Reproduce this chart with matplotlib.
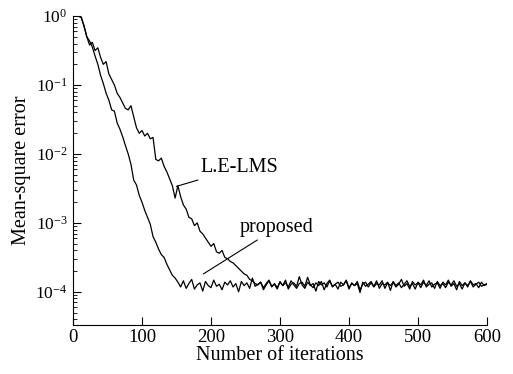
import numpy as np
import matplotlib.pyplot as plt
from matplotlib.ticker import LogLocator, NullFormatter

plt.rcParams['font.family'] = 'Liberation Serif'
plt.rcParams['mathtext.fontset'] = 'custom'
plt.rcParams['mathtext.rm'] = 'Liberation Serif'
plt.rcParams['mathtext.it'] = 'Liberation Serif:italic'

# Iterations sampled every 4 steps
iterations = np.arange(0, 601, 4)

# log10 of mean-square error, proposed algorithm
proposed_decay = [0, 0, 0, -0.02, -0.14, -0.30, -0.36, -0.45, -0.58, -0.70,
                  -0.86, -0.98, -1.12, -1.22, -1.36, -1.38, -1.55, -1.64, -1.75, -1.88,
                  -2.00, -2.15, -2.38, -2.45, -2.60, -2.70, -2.82, -2.92, -3.02, -3.20,
                  -3.28, -3.38, -3.46, -3.50, -3.60, -3.68, -3.76, -3.80]
proposed_floor = [
    -3.86, -3.93, -3.84, -3.95, -3.88, -3.82, -3.96, -3.90, -3.87, -3.99, -3.85, -3.91, -3.94, -3.83, -3.92, -3.89, -3.97, -3.86, -3.90, -3.84,
    -3.93, -3.88, -4.00, -3.85, -3.91, -3.87, -3.95, -3.80, -3.92, -3.89, -3.86, -3.97, -3.90, -3.84, -3.93, -3.88, -3.94, -3.86, -3.91, -3.83,
    -3.96, -3.89, -3.87, -3.92, -3.78, -3.90, -3.95, -3.86, -3.91, -3.88, -3.99, -3.85, -3.90, -3.87, -3.93, -3.84, -3.92, -3.89, -3.96, -3.86,
    -3.90, -3.83, -3.94, -3.88, -3.91, -3.85, -3.97, -3.89, -3.86, -3.93, -3.87, -3.92, -3.84, -3.95, -3.88, -3.90, -3.86, -3.98, -3.85, -3.91,
    -3.87, -3.94, -3.89, -3.84, -3.92, -3.88, -3.96, -3.86, -3.90, -3.83, -3.93, -3.89, -3.87, -3.95, -3.85, -3.91, -3.88, -3.94, -3.86, -3.90,
    -3.84, -3.92, -3.88, -3.96, -3.87, -3.91, -3.85, -3.93, -3.89, -3.86, -3.92, -3.90, -3.88]

# log10 of mean-square error, L.E-LMS
lelms_decay = [0, 0, 0, -0.02, -0.15, -0.30, -0.42, -0.38, -0.50, -0.46,
               -0.60, -0.70, -0.66, -0.84, -0.92, -1.00, -1.12, -1.18, -1.26, -1.34,
               -1.36, -1.30, -1.46, -1.62, -1.70, -1.66, -1.74, -1.70, -1.78, -1.76,
               -2.08, -2.10, -2.06, -2.18, -2.26, -2.36, -2.46, -2.64, -2.46, -2.62,
               -2.74, -2.80, -2.92, -2.94, -3.04, -3.00, -3.12, -3.16, -3.22, -3.28,
               -3.34, -3.30, -3.42, -3.44, -3.40, -3.50, -3.52, -3.56, -3.58, -3.62,
               -3.66, -3.70, -3.74, -3.76, -3.82, -3.84, -3.88]
lelms_floor = [
    -3.90, -3.86, -3.94, -3.88, -3.83, -3.92, -3.89, -3.96, -3.85, -3.91, -3.87, -3.93, -3.84, -3.90, -3.95, -3.88, -3.86, -3.92, -3.79, -3.90,
    -3.94, -3.87, -3.91, -3.85, -3.97, -3.88, -3.83, -3.93, -3.89, -3.86, -3.92, -3.90, -3.84, -3.96, -3.87, -3.91, -3.88, -4.01, -3.86, -3.92,
    -3.89, -3.85, -3.93, -3.88, -3.90, -3.84, -3.95, -3.87, -3.91, -3.86, -3.93, -3.89, -3.82, -3.92, -3.88, -3.96, -3.85, -3.90, -3.87, -3.94,
    -3.86, -3.91, -3.84, -3.93, -3.89, -3.87, -3.95, -3.86, -3.90, -3.83, -3.92, -3.88, -3.97, -3.85, -3.91, -3.87, -3.93, -3.84, -3.90, -3.88,
    -3.94, -3.86, -3.91, -3.89]

proposed = 10 ** np.array(proposed_decay + proposed_floor)
lelms = 10 ** np.array(lelms_decay + lelms_floor)

fig = plt.figure(figsize=(5.13, 3.74), dpi=100)
ax = fig.add_axes([0.1423, 0.131, 0.807, 0.826])

ax.plot(iterations, lelms, color='black', lw=0.9)
ax.plot(iterations, proposed, color='black', lw=0.9)

ax.set_yscale('log')
ax.set_xlim(0, 600)
ax.set_ylim(3.3e-5, 1)
ax.set_xticks(range(0, 601, 100))
ax.yaxis.set_major_locator(LogLocator(base=10, numticks=10))
ax.yaxis.set_minor_locator(LogLocator(base=10, subs=np.arange(2, 10), numticks=20))
ax.yaxis.set_minor_formatter(NullFormatter())

for side in ['top', 'right']:
    ax.spines[side].set_visible(False)
for side in ['left', 'bottom']:
    ax.spines[side].set_linewidth(0.8)

ax.tick_params(which='major', direction='in', length=6, width=0.8)
ax.tick_params(which='minor', direction='in', length=3, width=0.6)
ax.tick_params(axis='x', labelsize=13.5, pad=3)
ax.tick_params(axis='y', labelsize=12.5, pad=4)

ax.set_xlabel('Number of iterations', fontsize=14.5, labelpad=0)
ax.set_ylabel('Mean-square error', fontsize=14.5, labelpad=3)

ax.annotate('L.E-LMS', xy=(150, 10 ** -2.47), xytext=(185, 10 ** -2.20),
            fontsize=14.5, va='center', ha='left',
            arrowprops=dict(arrowstyle='-', color='black', lw=0.8, shrinkA=0, shrinkB=0))
ax.annotate('proposed', xy=(189, 10 ** -3.74), xytext=(242, 10 ** -3.07),
            fontsize=14.5, va='center', ha='left',
            arrowprops=dict(arrowstyle='-', color='black', lw=0.8, shrinkA=0, shrinkB=0))

fig.savefig('out.png', dpi=100)
